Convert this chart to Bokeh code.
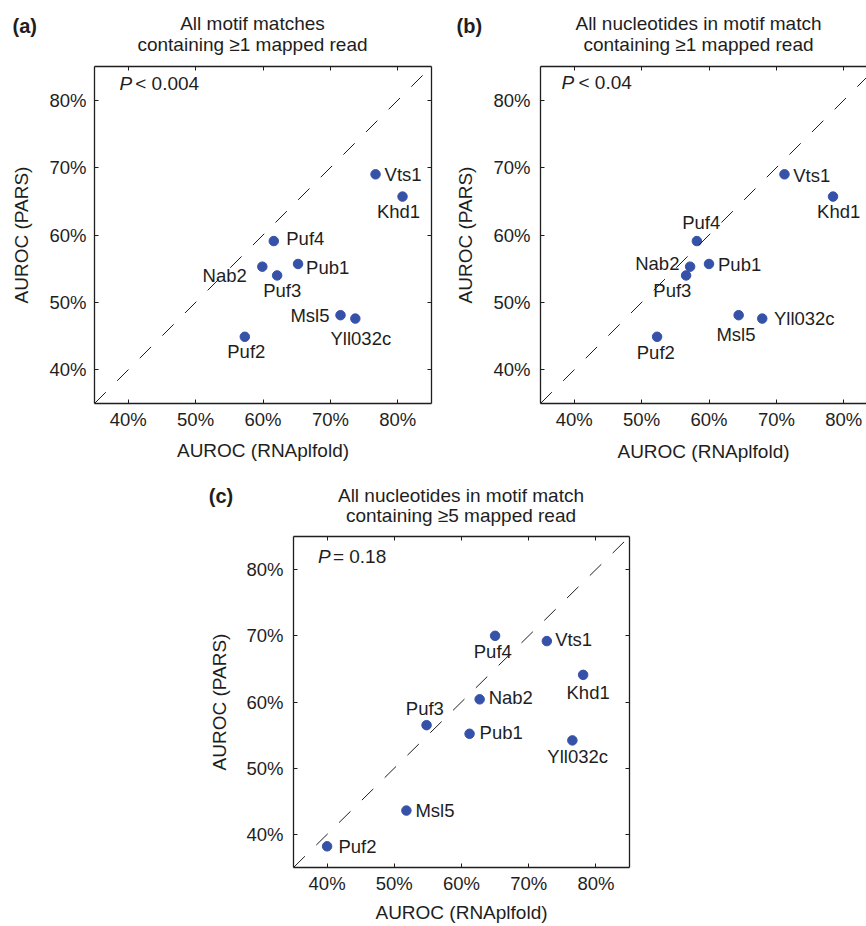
from bokeh.plotting import figure
from bokeh.models import (Range1d, FixedTicker, LinearAxis, Label, Slope,
                          ColumnDataSource, CustomJSTickFormatter, Spacer)
from bokeh.layouts import column, row
from bokeh.embed import file_html
from bokeh.resources import INLINE
from bokeh.core.properties import value, field

FONT = "Liberation Sans"
INK = "#1e1e1e"
DOT = "#3652a8"

# ---------------- data ----------------
names = ["Vts1", "Khd1", "Puf4", "Pub1", "Nab2", "Puf3", "Msl5", "Yll032c", "Puf2"]

rnaplfold_a = [76.7, 80.7, 61.6, 65.2, 59.9, 62.1, 71.5, 73.7, 57.3]
pars_a = [69.0, 65.7, 59.1, 55.7, 55.3, 54.0, 48.1, 47.6, 44.9]

rnaplfold_b = [71.2, 78.4, 58.2, 60.0, 57.2, 56.6, 64.4, 67.9, 52.3]
pars_b = [69.0, 65.7, 59.1, 55.7, 55.3, 54.0, 48.1, 47.6, 44.9]

rnaplfold_c = [72.7, 78.1, 65.0, 61.2, 62.7, 54.8, 51.8, 76.5, 40.0]
pars_c = [69.2, 64.1, 70.0, 55.2, 60.4, 56.5, 43.6, 54.2, 38.2]

tick_values = [40, 50, 60, 70, 80]
tick_labels = ["40%", "50%", "60%", "70%", "80%"]
axis_min, axis_max = 35, 85

x_title = "AUROC (RNAplfold)"
y_title = "AUROC (PARS)"

letters = ["(a)", "(b)", "(c)"]
titles_a = ["All motif matches", "containing \u22651 mapped read"]
titles_b = ["All nucleotides in motif match", "containing \u22651 mapped read"]
titles_c = ["All nucleotides in motif match", "containing \u22655 mapped read"]

pvals = ["< 0.004", "< 0.04", "= 0.18"]

# ---------------- label placement (styling, px) ----------------
place_a = dict(dx=[9, -4, 12.5, 8, -15.5, 5, -11, 5.5, 1.5],
               dy=[0, 15, -3, 4, 9, 15, 0, 19.5, 14.5],
               align=["left", "center", "left", "left", "right", "center", "right", "center", "center"])
place_b = dict(dx=[8.7, 5.7, 4.3, 9, -10.7, -13.7, -2.7, 11.7, -1.3],
               dy=[1, 14.7, -18.7, 1, -3, 14.7, 19.7, 0, 15.3],
               align=["left", "center", "center", "left", "right", "center", "center", "left", "center"])
place_c = dict(dx=[8.3, 5, -2.3, 10, 9, -1.7, 9, 5.3, 11.3],
               dy=[-2, 17.7, 15.3, -1, -1.7, -17, 0, 16, 0],
               align=["left", "center", "center", "left", "left", "center", "left", "center", "left"])

PAGE_W = 866
FRAME_H = 337
PX = FRAME_H / (axis_max - axis_min)


def style_axis(ax, show_labels, standoff=5):
    ax.ticker = FixedTicker(ticks=tick_values)
    ax.major_tick_in = 4
    ax.major_tick_out = 0
    ax.minor_tick_line_color = None
    ax.major_tick_line_color = INK
    ax.major_tick_line_width = 1
    ax.axis_line_color = INK
    ax.axis_line_width = 1.3
    ax.major_label_text_font = FONT
    ax.major_label_text_font_size = "18.5px"
    ax.major_label_text_color = INK
    ax.major_label_standoff = standoff
    ax.axis_label_text_font = FONT
    ax.axis_label_text_font_size = "19px"
    ax.axis_label_text_font_style = "normal"
    ax.axis_label_text_color = INK
    if show_labels:
        ax.major_label_overrides = dict(zip(tick_values, tick_labels))
    else:
        ax.formatter = CustomJSTickFormatter(code="return ''")
        ax.major_label_text_font_size = "0px"
        ax.major_label_standoff = 0


def add_label(p, text, x, y, xo=0, yo=0, align="center", size="19px", style="normal"):
    p.add_layout(Label(x=x, y=y, x_offset=xo, y_offset=yo, text=text,
                       text_align=align, text_baseline="middle",
                       text_font=FONT, text_font_size=size,
                       text_font_style=style, text_color=INK))


def header(height, blocks):
    """A full-width strip (page pixel coordinates) holding panel letters and titles."""
    h = figure(width=PAGE_W, height=height, x_range=Range1d(0, PAGE_W),
               y_range=Range1d(height, 0), output_backend="svg",
               toolbar_location=None, min_border=0)
    h.axis.visible = False
    h.grid.visible = False
    h.outline_line_color = None
    h.background_fill_color = "white"
    h.border_fill_color = "white"
    for letter, lx, ly, lines, tx, ty in blocks:
        add_label(h, letter, lx, ly, align="left", size="20px", style="bold")
        add_label(h, lines[0], tx, ty[0])
        add_label(h, lines[1], tx, ty[1])
    return h


def panel(xs, ys, place, pval, p_pos, geo, ytick_standoff, ylab_standoff,
          xlab_standoff, right_box=True):
    fw = geo["frame_w"]
    x_end = axis_min + fw / PX
    p = figure(width=geo["left"] + fw + geo["right"],
               height=geo["top"] + FRAME_H + geo["bottom"],
               x_range=Range1d(axis_min, x_end), y_range=Range1d(axis_min, axis_max),
               output_backend="svg", toolbar_location=None,
               min_border_left=geo["left"], min_border_right=geo["right"],
               min_border_top=geo["top"], min_border_bottom=geo["bottom"])
    p.xgrid.visible = False
    p.ygrid.visible = False
    p.background_fill_color = "white"
    p.border_fill_color = "white"
    p.outline_line_color = None

    style_axis(p.xaxis[0], True, 5)
    p.xaxis[0].axis_label = x_title
    p.xaxis[0].axis_label_standoff = xlab_standoff
    style_axis(p.yaxis[0], True, ytick_standoff)
    p.yaxis[0].axis_label = y_title
    p.yaxis[0].axis_label_standoff = ylab_standoff

    top = LinearAxis()
    style_axis(top, False)
    p.add_layout(top, "above")
    if right_box:
        right = LinearAxis()
        style_axis(right, False)
        p.add_layout(right, "right")

    p.add_layout(Slope(gradient=1, y_intercept=0, line_color=INK,
                       line_width=1, line_dash="16 16"))

    src = ColumnDataSource(dict(x=xs, y=ys, name=names, dx=place["dx"],
                                dy=place["dy"], align=place["align"]))
    p.scatter(x="x", y="y", source=src, size=9.5, fill_color=DOT, line_color=DOT)
    p.text(x="x", y="y", text="name", x_offset="dx", y_offset="dy",
           text_align=field("align"), text_baseline="middle",
           text_font=value(FONT), text_font_size="18.5px", text_color=INK,
           source=src)

    # P value (italic P)
    add_label(p, "P", axis_min, axis_max, p_pos[0], p_pos[1], align="left", style="italic")
    add_label(p, pval, axis_min, axis_max, p_pos[2], p_pos[1], align="left")
    return p


h_top = header(58, [(letters[0], 12, 25, titles_a, 252, (22.7, 44.3)),
                    (letters[1], 456, 25, titles_b, 698, (22.7, 44.3))])
h_mid = header(55, [(letters[2], 208.3, 22, titles_c, 460.5, (22, 42))])

pa = panel(rnaplfold_a, pars_a, place_a, pvals[0], (25, -17, 40.7),
           dict(frame_w=337, left=94, right=20, top=8, bottom=70),
           ytick_standoff=8, ylab_standoff=14, xlab_standoff=7)
pb = panel(rnaplfold_b, pars_b, place_b, pvals[1], (21, -16, 38),
           dict(frame_w=326, left=89, right=0, top=8, bottom=70),
           ytick_standoff=10, ylab_standoff=14, xlab_standoff=8, right_box=False)
pc = panel(rnaplfold_c, pars_c, place_c, pvals[2], (24.4, -20, 39.4),
           dict(frame_w=337, left=86, right=20, top=8, bottom=52),
           ytick_standoff=10, ylab_standoff=13, xlab_standoff=5)

layout = column(h_top, row(pa, pb), h_mid,
                row(Spacer(width=206, height=397), pc))

open("out.html", "w").write(file_html(layout, INLINE))
